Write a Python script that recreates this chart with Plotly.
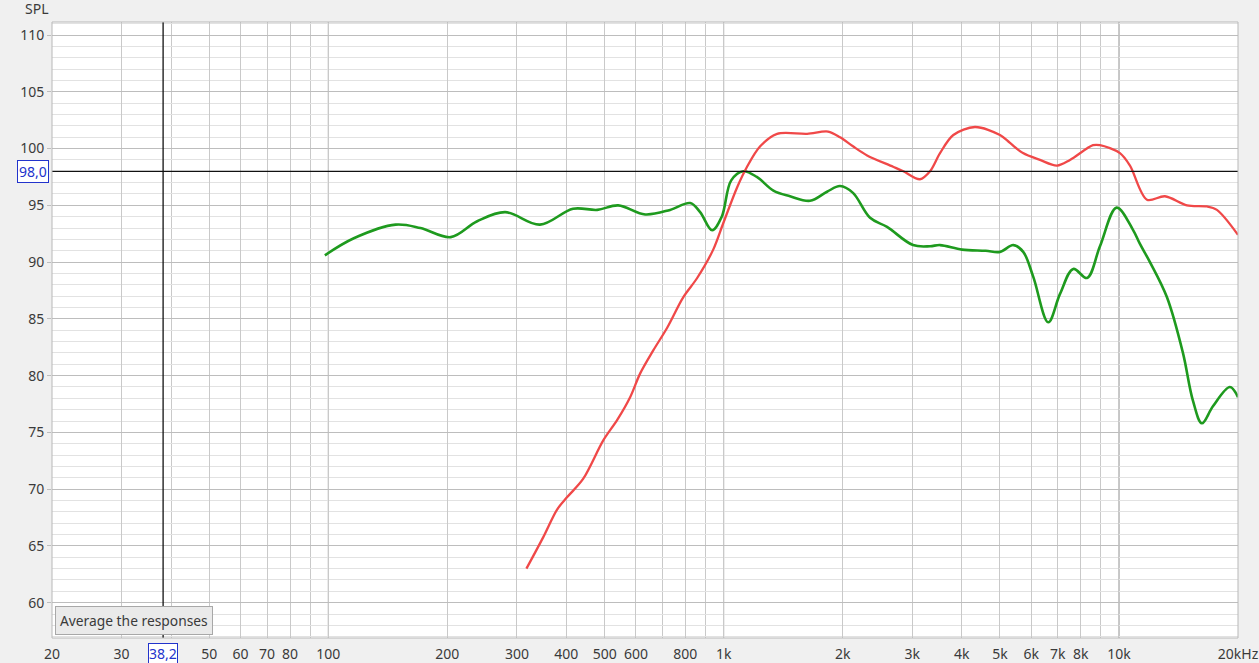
import math
import plotly.graph_objects as go

# ---------------- data ----------------
green_freq = [98, 116, 148, 171, 204, 238, 280, 343, 416, 479, 541, 633, 732, 823, 872, 935,
              989, 1045, 1122, 1213, 1336, 1472, 1654, 1826, 1970, 2124, 2346, 2590,
              3013, 3327, 3526, 4008, 4600, 5000, 5404, 5725, 6070, 6623, 7093, 7662, 8300, 8951,
              9864, 10866, 11298, 11976, 13224, 14512, 15382, 16208, 17284, 19078, 20000]
green_spl = [90.6, 92.1, 93.3, 93.0, 92.2, 93.6, 94.4, 93.3, 94.7, 94.6, 95.0, 94.2, 94.6, 95.2, 94.4, 92.8,
             94.0, 97.2, 98.0, 97.5, 96.3, 95.8, 95.4, 96.2, 96.7, 96.1, 93.9, 93.1,
             91.5, 91.4, 91.5, 91.1, 91.0, 90.9, 91.5, 90.9, 88.7, 84.7, 87.2, 89.4, 88.6, 91.4,
             94.8, 92.8, 91.6, 90.0, 86.9, 82.0, 77.8, 75.8, 77.3, 79.0, 78.1]

red_freq = [317, 350, 379, 402, 441, 496, 538, 580, 615, 663, 719, 790, 857, 941, 997,
            1082, 1146, 1237, 1365, 1626, 1837, 1970, 2124, 2306, 2683, 2848, 3138, 3327,
            3526, 3810, 4322, 5000, 5300, 5716, 6311, 6970, 7516, 8594, 8951, 10056, 10660, 11768,
            13070, 14858, 16688, 17688, 20000]
red_spl = [63.0, 65.8, 68.2, 69.3, 70.9, 74.3, 76.1, 78.1, 80.2, 82.2, 84.2, 86.9, 88.6, 91.1, 93.4,
           96.6, 98.4, 100.2, 101.3, 101.3, 101.5, 101.0, 100.2, 99.4, 98.4, 98.0, 97.3, 98.0,
           99.6, 101.2, 101.9, 101.2, 100.5, 99.6, 99.0, 98.5, 99.0, 100.3, 100.3, 99.6, 98.5, 95.5,
           95.8, 95.0, 94.9, 94.6, 92.4]

x_tick_vals = [20, 30, 50, 60, 70, 80, 100, 200, 300, 400, 500, 600, 800, 1000,
               2000, 3000, 4000, 5000, 6000, 7000, 8000, 10000, 20000]
x_tick_text = ["20", "30", "50", "60", "70", "80", "100", "200", "300", "400", "500", "600", "800", "1k",
               "2k", "3k", "4k", "5k", "6k", "7k", "8k", "10k", "20kHz"]
x_minor_vals = [40, 90, 700, 900, 9000]
decade_vals = [100, 1000, 10000]
y_tick_vals = [60, 65, 70, 75, 80, 85, 90, 95, 100, 105, 110]

CURSOR_FREQ = 38.2
CURSOR_SPL = 98.0
cursor_freq_label = "38,2"
cursor_spl_label = "98,0"

# ---------------- figure ----------------
FONT = "Noto Sans"
TXT = "#3a3a3a"
BLUE = "#2233cc"

fig = go.Figure()
fig.add_trace(go.Scatter(x=green_freq, y=green_spl, mode="lines",
                         line=dict(color="#1e9a1e", width=2.6, shape="spline", smoothing=1.0),
                         hoverinfo="skip", showlegend=False))
fig.add_trace(go.Scatter(x=red_freq, y=red_spl, mode="lines",
                         line=dict(color="#f04848", width=2.3, shape="spline", smoothing=0.9),
                         hoverinfo="skip", showlegend=False))

shapes = []
for d in decade_vals:
    shapes.append(dict(type="line", xref="x", yref="paper", x0=d, x1=d, y0=0, y1=1,
                       line=dict(color="#8a8a8a", width=1), layer="between"))
shapes.append(dict(type="line", xref="x", yref="paper", x0=CURSOR_FREQ, x1=CURSOR_FREQ, y0=0, y1=1,
                   line=dict(color="#111111", width=1.3), layer="above"))
shapes.append(dict(type="line", xref="paper", yref="y", x0=0, x1=1, y0=CURSOR_SPL, y1=CURSOR_SPL,
                   line=dict(color="#111111", width=1.3), layer="above"))
shapes.append(dict(type="rect", xref="paper", yref="paper", x0=0, x1=1, y0=0, y1=1,
                   line=dict(color="#b8b8b8", width=1), layer="above"))

annotations = [
    dict(text="SPL", xref="paper", yref="paper", x=0, y=1, xanchor="right", yanchor="bottom",
         xshift=-1, yshift=2, showarrow=False, font=dict(family=FONT, size=14, color=TXT)),
    dict(text=cursor_spl_label, xref="paper", yref="y", x=0, y=CURSOR_SPL, xanchor="right",
         yanchor="middle", xshift=-3, showarrow=False, bgcolor="white", bordercolor=BLUE,
         borderwidth=1, borderpad=1, font=dict(family=FONT, size=14, color=BLUE)),
    dict(text=cursor_freq_label, xref="x", yref="paper", x=math.log10(CURSOR_FREQ), y=0,
         xanchor="center", yanchor="top", yshift=-5, showarrow=False, bgcolor="white",
         bordercolor=BLUE, borderwidth=1, borderpad=0, font=dict(family=FONT, size=14, color=BLUE)),
    dict(text="Average the responses", xref="paper", yref="paper", x=0, y=0, xanchor="left",
         yanchor="bottom", xshift=3, yshift=3, showarrow=False, bgcolor="#eaeaea",
         bordercolor="#a8a8a8", borderwidth=1, borderpad=4,
         font=dict(family=FONT, size=13.8, color=TXT)),
]

fig.update_layout(
    width=1259, height=663,
    margin=dict(l=52, r=21, t=22, b=25, pad=0, autoexpand=False),
    paper_bgcolor="#f0f0f0", plot_bgcolor="white",
    font=dict(family=FONT, size=14, color=TXT),
    shapes=shapes, annotations=annotations,
    xaxis=dict(type="log", range=[math.log10(20), math.log10(20000)], automargin=False,
               tickmode="array", tickvals=x_tick_vals, ticktext=x_tick_text,
               showgrid=True, gridcolor="#c9c9c9", gridwidth=1,
               minor=dict(tickmode="array", tickvals=x_minor_vals, showgrid=True,
                          gridcolor="#c9c9c9", gridwidth=1),
               ticks="", ticklabelstandoff=6, zeroline=False, showline=False,
               tickfont=dict(family=FONT, size=14, color=TXT)),
    yaxis=dict(range=[56.89, 111.15], tickmode="array", tickvals=y_tick_vals, automargin=False,
               showgrid=True, gridcolor="#bdbdbd", gridwidth=1,
               minor=dict(dtick=1, tick0=0, showgrid=True, gridcolor="#e2e2e2", gridwidth=1),
               ticks="outside", ticklen=4, tickcolor="#bdbdbd", zeroline=False, showline=False,
               tickfont=dict(family=FONT, size=14, color=TXT)),
)

fig.write_html("out.html", config={"displayModeBar": False},
               post_script="document.body.style.margin='0';document.body.style.overflow='hidden';")
